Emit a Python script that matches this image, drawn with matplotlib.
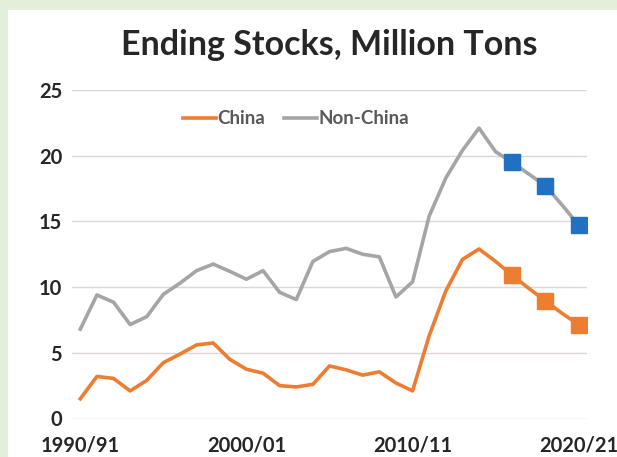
import matplotlib
matplotlib.use("Agg")
import matplotlib.pyplot as plt
import matplotlib.patches as patches

# crop years, 1990/91 .. 2020/21
years = [f"{y}/{str(y + 1)[-2:]}" for y in range(1990, 2021)]
tick_labels = ["1990/91", "2000/01", "2010/11", "2020/21"]

china = [1.5, 3.2, 3.05, 2.1, 2.9, 4.25, 4.9, 5.6, 5.75, 4.5,
         3.75, 3.45, 2.5, 2.4, 2.6, 4.0, 3.7, 3.3, 3.55, 2.7,
         2.1, 6.3, 9.7, 12.1, 12.9, 11.95, 10.9, 9.9, 8.95, 8.0,
         7.15]
non_china = [6.8, 9.4, 8.85, 7.15, 7.75, 9.45, 10.3, 11.25, 11.75, 11.2,
             10.6, 11.25, 9.6, 9.05, 11.95, 12.7, 12.95, 12.5, 12.3, 9.25,
             10.4, 15.4, 18.3, 20.4, 22.1, 20.3, 19.5, 18.6, 17.7, 16.25,
             14.7]
# years flagged with square markers
marked_years = ["2016/17", "2018/19", "2020/21"]

ORANGE = "#ed7d31"
GRAY = "#a5a5a5"
BLUE = "#2170c4"
FONT = "Lato"

fig = plt.figure(figsize=(6.17, 4.57), dpi=100)
fig.patch.set_facecolor("#e2efda")
W, H = 617, 457
fig.patches.append(patches.Rectangle((8 / W, 0), 1, 1 - 10 / H, transform=fig.transFigure,
                                     facecolor="white", edgecolor="none", zorder=-10))

ax = fig.add_axes([72 / W, 1 - 418.5 / H, (587 - 72) / W, (418.5 - 90) / H])
ax.set_facecolor("none")

x = list(range(len(years)))
ax.plot(x, china, color=ORANGE, lw=2.6, label="China", solid_joinstyle="round", zorder=3)
ax.plot(x, non_china, color=GRAY, lw=2.6, label="Non-China", solid_joinstyle="round", zorder=3)

mi = [years.index(y) for y in marked_years]
ax.plot(mi, [china[i] for i in mi], ls="none", marker="s", ms=12, color=ORANGE, zorder=4)
ax.plot(mi, [non_china[i] for i in mi], ls="none", marker="s", ms=12, color=BLUE, zorder=4)

ax.set_xlim(-0.5, len(years) - 0.5)
ax.set_ylim(0, 25)
ax.set_yticks(range(0, 26, 5))
ax.set_xticks([years.index(t) for t in tick_labels])
ax.set_xticklabels(tick_labels)
ax.grid(axis="y", color="#ddd6d6", lw=1)
ax.set_axisbelow(True)
for s in ax.spines.values():
    s.set_visible(False)
ax.tick_params(length=0, labelcolor="#262626", labelsize=14.5)
ax.tick_params(axis="y", pad=7)
ax.tick_params(axis="x", pad=12)
for lab in ax.get_xticklabels() + ax.get_yticklabels():
    lab.set_fontfamily(FONT)
    lab.set_fontweight("bold")

leg = ax.legend(loc="upper center", bbox_to_anchor=(0.435, 0.99), ncol=2, frameon=False,
                handlelength=1.75, handletextpad=0.1, columnspacing=1.0,
                prop={"family": FONT, "weight": "bold", "size": 13.5})
for t in leg.get_texts():
    t.set_color("#595959")

fig.text(329.5 / W, 1 - 45 / H, "Ending Stocks, Million Tons", ha="center", va="center",
         fontsize=24.5, fontweight="bold", family=FONT, color="#262626")

fig.savefig("out.png", dpi=100, facecolor=fig.get_facecolor())
